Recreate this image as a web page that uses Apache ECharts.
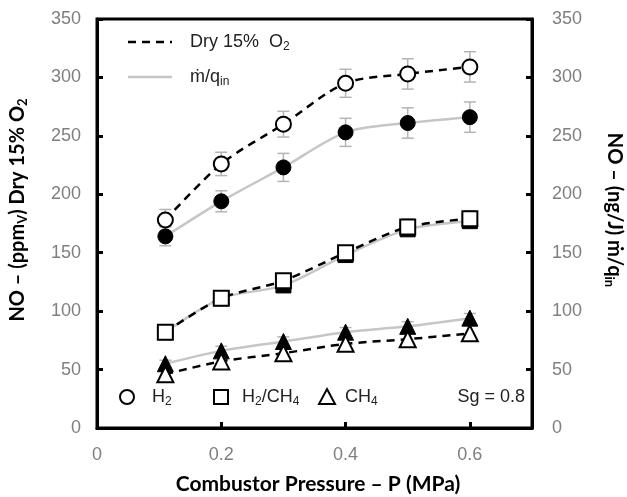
<!DOCTYPE html>
<html>
<head>
<meta charset="utf-8">
<script src="https://cdn.jsdelivr.net/npm/echarts@6/dist/echarts.min.js"></script>
<style>
html,body{margin:0;padding:0;background:#fff;}
#chart{width:627px;height:497px;}
</style>
</head>
<body>
<div id="chart"></div>
<script>
// Pressure (MPa)
var pressure = [0.11, 0.2, 0.3, 0.4, 0.5, 0.6];
// NO ppmv dry 15% O2 (open markers, dashed)
var h2Dry = [178, 226, 260, 295, 303, 309];
var mixDry = [82, 111, 126, 150, 172, 179];
var ch4Dry = [46, 57, 64, 72, 76, 81];
// NO ng/J mdot/qin (filled markers, gray solid)
var h2Mass = [164, 194, 223, 253, 261, 266];
var mixMass = [82, 111, 122, 148, 170, 177];
var ch4Mass = [55, 66, 74, 82, 87, 94];
// error bar half-widths
var h2DryErr = [9, 10, 11, 12, 13, 13];
var h2MassErr = [8, 9, 12, 12, 13, 13];
var mixDryErr = [3, 4, 4, 6, 7, 7];
var ch4MassErr = [3, 4, 4, 4, 4, 4];
// axis ticks
var xTicks = [0, 0.2, 0.4, 0.6];
var yMin = 0, yMax = 350, yStep = 50;

function pairs(ys) { return pressure.map(function (x, i) { return [x, ys[i]]; }); }
function errData(ys, es) { return pressure.map(function (x, i) { return [x, ys[i], es[i]]; }); }

function errSeries(ys, es, axisIdx) {
  return {
    type: 'custom',
    yAxisIndex: axisIdx,
    z: 1,
    silent: true,
    data: errData(ys, es),
    renderItem: function (params, api) {
      var x = api.value(0), y = api.value(1), e = api.value(2);
      var top = api.coord([x, y + e]);
      var bot = api.coord([x, y - e]);
      var cw = 6;
      var st = { stroke: '#b4b4b4', lineWidth: 1.5 };
      return {
        type: 'group',
        children: [
          { type: 'line', shape: { x1: top[0], y1: top[1], x2: bot[0], y2: bot[1] }, style: st },
          { type: 'line', shape: { x1: top[0] - cw, y1: top[1], x2: top[0] + cw, y2: top[1] }, style: st },
          { type: 'line', shape: { x1: bot[0] - cw, y1: bot[1], x2: bot[0] + cw, y2: bot[1] }, style: st }
        ]
      };
    }
  };
}

function dryLine(ys, symbol, size) {
  return {
    type: 'line', yAxisIndex: 0, z: 4, smooth: 0.3,
    data: pairs(ys), symbol: symbol, symbolSize: size,
    lineStyle: { color: '#000', width: 2.5, type: [8, 6] },
    itemStyle: { color: '#fff', borderColor: '#000', borderWidth: 2 }
  };
}
function massLine(ys, symbol, size) {
  return {
    type: 'line', yAxisIndex: 1, z: 3, smooth: 0.3,
    data: pairs(ys), symbol: symbol, symbolSize: size,
    lineStyle: { color: '#c6c6c6', width: 2.5 },
    itemStyle: { color: '#000', borderColor: '#000', borderWidth: 1 }
  };
}

var tickLabelStyle = { color: '#7f7f7f', fontSize: 18, fontFamily: 'Liberation Sans, Arial, sans-serif' };
var legendFont = 'Liberation Sans, Arial, sans-serif';
var titleFont = 'Lato, "Open Sans", sans-serif';

function yAxis(pos, margin) {
  return {
    type: 'value', position: pos, min: yMin, max: yMax, interval: yStep,
    axisLine: { show: true, lineStyle: { color: '#000', width: 3 } },
    axisTick: { show: true, inside: true, length: 6, lineStyle: { color: '#000', width: 3 } },
    axisLabel: Object.assign({ margin: margin }, tickLabelStyle),
    splitLine: { show: false }
  };
}

var chart = echarts.init(document.getElementById('chart'), null, { renderer: 'canvas' });
chart.setOption({
  backgroundColor: '#fff',
  animation: false,
  grid: { left: 97, right: 95, top: 19, bottom: 69, show: true, borderColor: '#000', borderWidth: 3, backgroundColor: 'transparent' },
  xAxis: {
    type: 'value', min: 0, max: 0.7, interval: 0.2,
    axisLine: { show: true, lineStyle: { color: '#000', width: 3 } },
    axisTick: { show: true, inside: true, length: 6, lineStyle: { color: '#000', width: 3 } },
    axisLabel: Object.assign({
      margin: 18, showMaxLabel: false,
      formatter: function (v) {
        for (var i = 0; i < xTicks.length; i++) { if (Math.abs(v - xTicks[i]) < 1e-6) return String(xTicks[i]); }
        return '';
      }
    }, tickLabelStyle),
    splitLine: { show: false }
  },
  yAxis: [yAxis('left', 16), yAxis('right', 20)],
  series: [
    errSeries(h2Dry, h2DryErr, 0),
    errSeries(h2Mass, h2MassErr, 1),
    errSeries(mixDry, mixDryErr, 0),
    errSeries(ch4Mass, ch4MassErr, 1),
    massLine(h2Mass, 'circle', 15),
    massLine(mixMass, 'rect', 15),
    massLine(ch4Mass, 'triangle', 16),
    dryLine(h2Dry, 'circle', 15),
    dryLine(mixDry, 'rect', 15),
    dryLine(ch4Dry, 'triangle', 16)
  ],
  graphic: [
    // top legend
    { type: 'line', shape: { x1: 128, y1: 42, x2: 172, y2: 42 }, style: { stroke: '#000', lineWidth: 2.5, lineDash: [8, 6] } },
    { type: 'text', x: 190, y: 42, style: { text: '{a|Dry 15%  O}{s|2}', fill: '#222', verticalAlign: 'middle', rich: { a: { fontSize: 18, fontFamily: legendFont, fill: '#222' }, s: { fontSize: 12, fontFamily: legendFont, fill: '#222', padding: [10, 0, 0, 0] } } } },
    { type: 'line', shape: { x1: 128, y1: 77, x2: 172, y2: 77 }, style: { stroke: '#c6c6c6', lineWidth: 2.5 } },
    { type: 'text', x: 190, y: 77, style: { text: '{a|\u1E41/q}{s|in}', fill: '#222', verticalAlign: 'middle', rich: { a: { fontSize: 18, fontFamily: legendFont, fill: '#222' }, s: { fontSize: 12, fontFamily: legendFont, fill: '#222', padding: [10, 0, 0, 0] } } } },
    // bottom legend
    { type: 'circle', shape: { cx: 127, cy: 397, r: 7 }, style: { fill: '#fff', stroke: '#000', lineWidth: 2 } },
    { type: 'text', x: 152, y: 397, style: { text: '{a|H}{s|2}', verticalAlign: 'middle', rich: { a: { fontSize: 18, fontFamily: legendFont, fill: '#222' }, s: { fontSize: 12, fontFamily: legendFont, fill: '#222', padding: [10, 0, 0, 0] } } } },
    { type: 'rect', shape: { x: 214, y: 390, width: 14, height: 14 }, style: { fill: '#fff', stroke: '#000', lineWidth: 2 } },
    { type: 'text', x: 242, y: 397, style: { text: '{a|H}{s|2}{a|/CH}{s|4}', verticalAlign: 'middle', rich: { a: { fontSize: 18, fontFamily: legendFont, fill: '#222' }, s: { fontSize: 12, fontFamily: legendFont, fill: '#222', padding: [10, 0, 0, 0] } } } },
    { type: 'polygon', shape: { points: [[327, 389], [335, 404], [319, 404]] }, style: { fill: '#fff', stroke: '#000', lineWidth: 2 } },
    { type: 'text', x: 345, y: 397, style: { text: '{a|CH}{s|4}', verticalAlign: 'middle', rich: { a: { fontSize: 18, fontFamily: legendFont, fill: '#222' }, s: { fontSize: 12, fontFamily: legendFont, fill: '#222', padding: [10, 0, 0, 0] } } } },
    { type: 'text', x: 525, y: 397, style: { text: 'Sg = 0.8', fontSize: 18, fontFamily: legendFont, fill: '#222', align: 'right', verticalAlign: 'middle' } },
    // axis titles
    { type: 'text', x: 318, y: 484, style: { text: 'Combustor Pressure \u2013 P (MPa)', fontSize: 21, fontWeight: 'bold', fontFamily: titleFont, fill: '#000', align: 'center', verticalAlign: 'middle' } },
    { type: 'text', x: 18, y: 210, rotation: Math.PI / 2, style: { text: '{a|NO \u2013 (ppm}{s|V}{a|) Dry 15% O}{s|2}', align: 'center', verticalAlign: 'middle', rich: { a: { fontSize: 20, fontWeight: 'bold', fontFamily: titleFont, fill: '#000' }, s: { fontSize: 13, fontWeight: 'bold', fontFamily: titleFont, fill: '#000', padding: [10, 0, 0, 0] } } } },
    { type: 'text', x: 614, y: 210, rotation: -Math.PI / 2, style: { text: '{a|NO \u2013 (ng/J) \u1E41/q}{s|in}', align: 'center', verticalAlign: 'middle', rich: { a: { fontSize: 20, fontWeight: 'bold', fontFamily: titleFont, fill: '#000' }, s: { fontSize: 13, fontWeight: 'bold', fontFamily: titleFont, fill: '#000', padding: [10, 0, 0, 0] } } } }
  ]
});
</script>
</body>
</html>
